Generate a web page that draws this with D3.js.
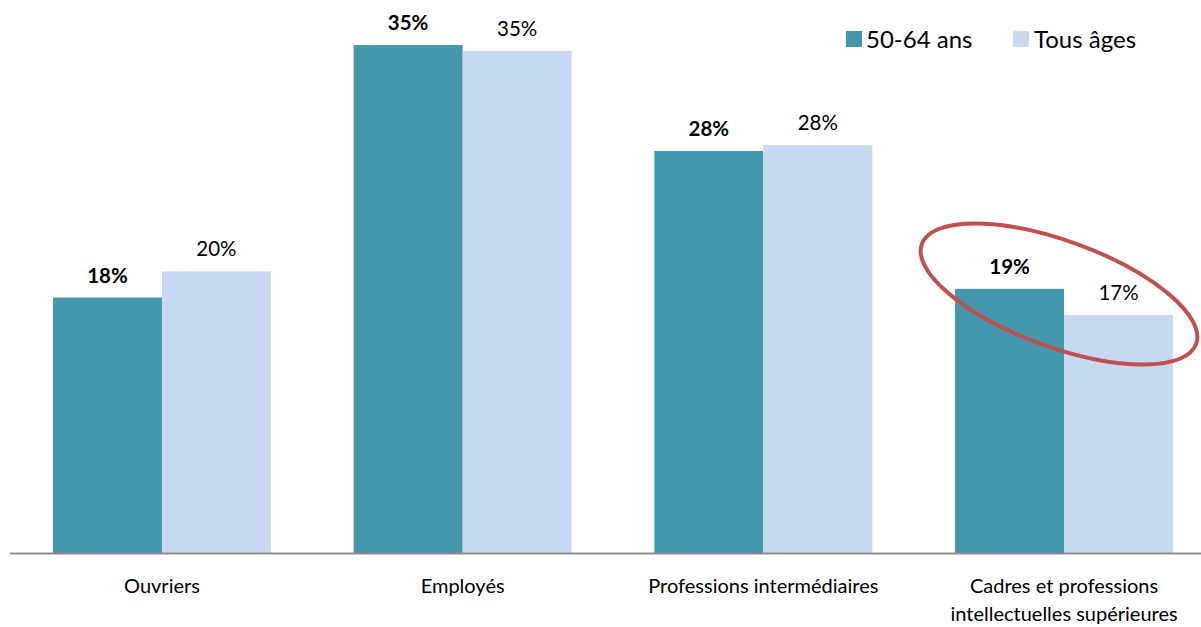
<!DOCTYPE html>
<html><head><meta charset="utf-8">
<script src="https://cdn.jsdelivr.net/npm/d3@7"></script>
<style>body{margin:0;background:#fff;} svg{display:block;font-family:Lato, "Open Sans", sans-serif;}</style>
</head><body>
<svg id="c" width="1201" height="627"></svg>
<script>
const categories = [["Ouvriers"], ["Employés"], ["Professions intermédiaires"], ["Cadres et professions", "intellectuelles supérieures"]];
const seriesNames = ["50-64 ans", "Tous âges"];
const values5064 = [17.6, 35.0, 27.7, 18.2];
const valuesTous = [19.4, 34.6, 28.1, 16.4];
const labels5064 = ["18%", "35%", "28%", "19%"];
const labelsTous = ["20%", "35%", "28%", "17%"];
const colors = ["#4398ae", "#c6d9f0"];

const svg = d3.select("#c");
const base = 553;
const x = d3.scaleBand().domain(d3.range(categories.length)).range([11.6, 1214.4]).paddingInner(0).paddingOuter(0);
const step = x.bandwidth();
const groupW = 218;
const xs = d3.scaleBand().domain([0, 1]).range([0, groupW]);
const y = d3.scaleLinear().domain([0, 38.1]).range([base, 0]);

const series = [values5064, valuesTous];
const lbls = [labels5064, labelsTous];

series.forEach((vals, si) => {
  svg.append("g").selectAll("rect").data(vals).join("rect")
    .attr("x", (d, i) => x(i) + (step - groupW) / 2 + xs(si))
    .attr("width", xs.bandwidth())
    .attr("y", d => y(d))
    .attr("height", d => base - y(d))
    .attr("fill", colors[si]);
  svg.append("g").selectAll("text").data(vals).join("text")
    .attr("x", (d, i) => x(i) + (step - groupW) / 2 + xs(si) + xs.bandwidth() / 2)
    .attr("y", d => y(d) - 15)
    .attr("text-anchor", "middle")
    .attr("font-size", 20.5)
    .attr("font-weight", si === 0 ? "bold" : "normal")
    .attr("fill", "#000")
    .text((d, i) => lbls[si][i]);
});

// baseline
svg.append("line").attr("x1", 10).attr("x2", 1201).attr("y1", base + 0.5).attr("y2", base + 0.5)
  .attr("stroke", "#8c8c8c").attr("stroke-width", 2);

// category labels
const cl = svg.append("g").selectAll("text").data(categories).join("text")
  .attr("x", (d, i) => x(i) + step / 2)
  .attr("y", 593)
  .attr("text-anchor", "middle")
  .attr("font-size", 20)
  .attr("fill", "#000");
cl.selectAll("tspan").data(d => d).join("tspan")
  .attr("x", function() { return d3.select(this.parentNode).attr("x"); })
  .attr("dy", (d, j) => j === 0 ? 0 : 28)
  .text(d => d);

// legend
const leg = [{x: 846, tx: 866}, {x: 1013, tx: 1034}];
seriesNames.forEach((n, i) => {
  svg.append("rect").attr("x", leg[i].x).attr("y", 31).attr("width", 16).attr("height", 16).attr("fill", colors[i]);
  svg.append("text").attr("x", leg[i].tx).attr("y", 47.5).attr("font-size", 24).attr("fill", "#000").text(n);
});

// highlight ellipse
svg.append("ellipse").attr("cx", 1059).attr("cy", 294).attr("rx", 146).attr("ry", 53)
  .attr("transform", "rotate(20 1059 294)")
  .attr("fill", "none").attr("stroke", "#c0504d").attr("stroke-width", 4);
</script>
</body></html>
